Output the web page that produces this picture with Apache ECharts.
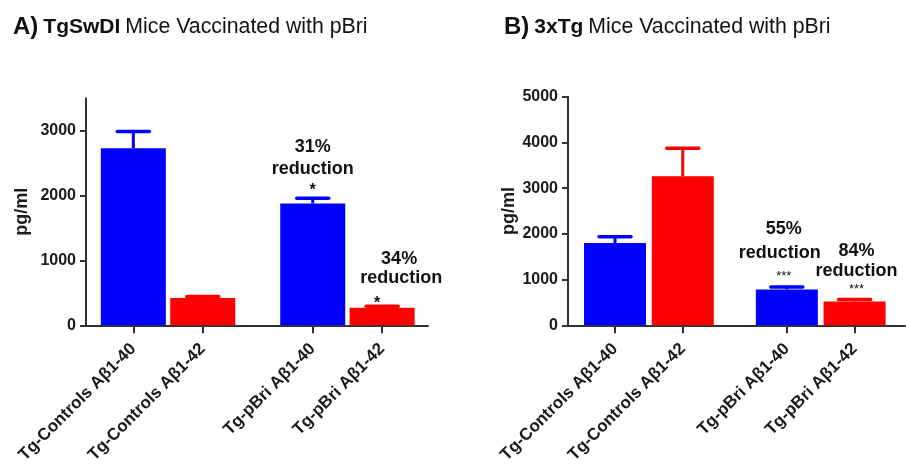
<!DOCTYPE html>
<html>
<head>
<meta charset="utf-8">
<script src="https://cdn.jsdelivr.net/npm/echarts@6/dist/echarts.min.js"></script>
<style>
html,body{margin:0;padding:0;background:#fff;}
#c{width:906px;height:466px;}
</style>
</head>
<body>
<div id="c"></div>
<script>
// ---- data ----
var categories = ["Tg-Controls A\u03b21-40", "Tg-Controls A\u03b21-42", "Tg-pBri A\u03b21-40", "Tg-pBri A\u03b21-42"];
var tgSwDIValues = [2730, 420, 1880, 272];
var tgSwDIErrTop = [2990, 446, 1960, 295];
var tg3xValues = [1800, 3260, 785, 522];
var tg3xErrTop = [1935, 3870, 837, 563];
var tgSwDITicks = [0, 1000, 2000, 3000];
var tg3xTicks = [0, 1000, 2000, 3000, 4000, 5000];
var tgSwDINotes = [null, null, ["31%", "reduction", "*"], ["34%", "reduction", "*"]];
var tg3xNotes = [null, null, ["55%", "reduction", "***"], ["84%", "reduction", "***"]];

// ---- layout helpers ----
var FONT = "'Liberation Sans', Arial, Helvetica, sans-serif";
var BLUE = "#0000ff", RED = "#ff0000";
function positions(gap) { return categories.map(function (c, i) { return i + (i >= 2 ? gap : 0); }); }
var posA = positions(0.585);
var posB = positions(0.536);

function barData(pos, vals) {
  return vals.map(function (v, i) {
    return { value: [pos[i], v], itemStyle: { color: i % 2 === 0 ? BLUE : RED } };
  });
}
function errData(pos, vals, errs) {
  return vals.map(function (v, i) { return [pos[i], v, errs[i], i]; });
}
function errRender(params, api) {
  var x = api.value(0), v = api.value(1), e = api.value(2), i = api.value(3);
  var p0 = api.coord([x, v]);
  var p1 = api.coord([x, e]);
  var col = i % 2 === 0 ? BLUE : RED;
  return {
    type: 'group',
    children: [
      { type: 'line', shape: { x1: p0[0], y1: p0[1], x2: p1[0], y2: p1[1] }, style: { stroke: col, lineWidth: 3 } },
      { type: 'line', shape: { x1: p1[0] - 16, y1: p1[1], x2: p1[0] + 16, y2: p1[1] }, style: { stroke: col, lineWidth: 3.5, lineCap: 'round' } }
    ]
  };
}
function xAxis(grid, pos, min, max) {
  return {
    type: 'value', gridIndex: grid, min: min, max: max,
    splitLine: { show: false },
    axisLine: { show: true, onZero: false, lineStyle: { color: '#333', width: 2 } },
    axisTick: { show: true, customValues: pos, length: 8, lineStyle: { color: '#333', width: 2 } },
    axisLabel: {
      customValues: pos, rotate: 45, margin: 21,
      fontFamily: FONT, fontSize: 17, fontWeight: 'bold', color: '#1a1a1a',
      formatter: function (v) {
        for (var i = 0; i < pos.length; i++) if (Math.abs(pos[i] - v) < 1e-6) return categories[i];
        return '';
      }
    }
  };
}
function yAxis(grid, max, ticks, gap) {
  return {
    type: 'value', gridIndex: grid, min: 0, max: max, interval: 1000,
    name: 'pg/ml', nameLocation: 'middle', nameRotate: 90, nameGap: gap,
    nameTextStyle: { fontFamily: FONT, fontSize: 18, fontWeight: 'bold', color: '#1a1a1a' },
    splitLine: { show: false },
    axisLine: { show: true, onZero: false, lineStyle: { color: '#333', width: 2 } },
    axisTick: { show: true, customValues: ticks, length: 6, lineStyle: { color: '#333', width: 2 } },
    axisLabel: {
      customValues: ticks, margin: 10,
      fontFamily: FONT, fontSize: 16, fontWeight: 'bold', color: '#1a1a1a',
      formatter: function (v) { return String(v); }
    }
  };
}

var chart = echarts.init(document.getElementById('c'));
var titleRich = {
  a: { fontFamily: FONT, fontSize: 24, fontWeight: 'bold', color: '#111' },
  b: { fontFamily: FONT, fontSize: 21, fontWeight: 'bold', color: '#111' },
  c: { fontFamily: FONT, fontSize: 21.3, fontWeight: 'normal', color: '#111' }
};
chart.setOption({
  animation: false,
  title: [
    { text: '{a|A)} {b|TgSwDI} {c|Mice Vaccinated with pBri}', left: 8, top: 10, textStyle: { rich: titleRich } },
    { text: '{a|B)} {b|3xTg} {c|Mice Vaccinated with pBri}', left: 499, top: 10, textStyle: { rich: titleRich } }
  ],
  grid: [
    { left: 86, width: 342, top: 98.3, height: 228.4 },
    { left: 568, width: 337, top: 96.7, height: 230 }
  ],
  xAxis: [ xAxis(0, posA, -0.682, 4.246), xAxis(1, posB, -0.694, 4.28) ],
  yAxis: [ yAxis(0, 3500, tgSwDITicks, 55), yAxis(1, 5000, tg3xTicks, 50) ],
  series: [
    { type: 'bar', xAxisIndex: 0, yAxisIndex: 0, barWidth: 65, data: barData(posA, tgSwDIValues) },
    { type: 'custom', xAxisIndex: 0, yAxisIndex: 0, renderItem: errRender, data: errData(posA, tgSwDIValues, tgSwDIErrTop), z: 1 },
    { type: 'bar', xAxisIndex: 1, yAxisIndex: 1, barWidth: 62, data: barData(posB, tg3xValues) },
    { type: 'custom', xAxisIndex: 1, yAxisIndex: 1, renderItem: errRender, data: errData(posB, tg3xValues, tg3xErrTop), z: 1 }
  ]
});

// ---- annotations anchored at error-bar tops ----
var noteLayoutA = {
  2: [[0, -51, 18, 'bold'], [0, -29, 18, 'bold'], [0, -8, 16, 'bold']],
  3: [[17, -47.5, 18, 'bold'], [19, -28.5, 18, 'bold'], [-5, -2.5, 16, 'bold']]
};
var noteLayoutB = {
  2: [[-3, -58, 18, 'bold'], [-7, -34, 18, 'bold'], [-3, -11, 13, 'normal']],
  3: [[2, -49, 18, 'bold'], [2, -29, 18, 'bold'], [2, -10, 13, 'normal']]
};
var graphics = [];
function addNotes(grid, pos, errs, notes, layout) {
  notes.forEach(function (lines, i) {
    if (!lines) return;
    var p = chart.convertToPixel({ gridIndex: grid }, [pos[i], errs[i]]);
    lines.forEach(function (t, k) {
      var l = layout[i][k];
      graphics.push({
        type: 'text', x: p[0] + l[0], y: p[1] + l[1],
        style: { text: t, fontFamily: FONT, fontSize: l[2], fontWeight: l[3], fill: '#111', align: 'center', verticalAlign: 'middle' }
      });
    });
  });
}
addNotes(0, posA, tgSwDIErrTop, tgSwDINotes, noteLayoutA);
addNotes(1, posB, tg3xErrTop, tg3xNotes, noteLayoutB);
chart.setOption({ graphic: graphics });
</script>
</body>
</html>
